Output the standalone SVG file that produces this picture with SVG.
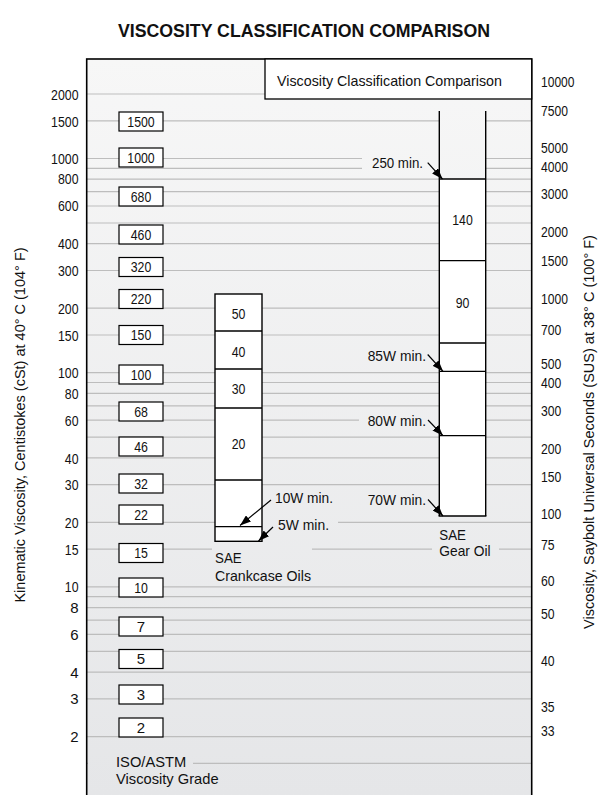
<svg xmlns="http://www.w3.org/2000/svg" width="608" height="795" viewBox="0 0 608 795">
<defs>
<linearGradient id="bg" gradientUnits="userSpaceOnUse" x1="0" y1="59" x2="0" y2="795">
<stop offset="0" stop-color="#f7f7f7"/>
<stop offset="1" stop-color="#e5e6e8"/>
</linearGradient>
<marker id="ah" viewBox="0 0 11 8" refX="11" refY="4" markerWidth="11" markerHeight="8" markerUnits="userSpaceOnUse" orient="auto">
<path d="M0,0 L11,4 L0,8 z" fill="#000"/>
</marker>
<style>
.t{font-family:"Liberation Sans",Arial,sans-serif;font-size:15px;fill:#111}
.ax{font-size:14.5px}
.l{text-anchor:end}
.c{text-anchor:middle}
.g{stroke:#bdbdbd;stroke-width:1.2}
.box{fill:#fff;stroke:#000;stroke-width:1.2}
.col{fill:#fff;stroke:#000;stroke-width:1.4}
.dv{stroke:#000;stroke-width:1.3}
.ko{fill:url(#bg);stroke:none}
.ar{stroke:#000;stroke-width:1.2;fill:none;marker-end:url(#ah)}
</style>
</defs>
<rect width="608" height="795" fill="#fff"/>
<text x="304" y="37" class="t c" style="font-size:19px;font-weight:bold" textLength="372" lengthAdjust="spacingAndGlyphs">VISCOSITY CLASSIFICATION COMPARISON</text>
<rect id="chart-area" x="86.7" y="59" width="445" height="745" fill="url(#bg)" stroke="none"/>
<g id="gridlines">
<line class="g" x1="87" y1="94" x2="531" y2="94"/>
<line class="g" x1="87" y1="120.8" x2="531" y2="120.8"/>
<line class="g" x1="87" y1="158.5" x2="531" y2="158.5"/>
<line class="g" x1="87" y1="168.3" x2="531" y2="168.3"/>
<line class="g" x1="87" y1="179.2" x2="531" y2="179.2"/>
<line class="g" x1="87" y1="191.7" x2="531" y2="191.7"/>
<line class="g" x1="87" y1="206" x2="531" y2="206"/>
<line class="g" x1="87" y1="223" x2="531" y2="223"/>
<line class="g" x1="87" y1="243.7" x2="531" y2="243.7"/>
<line class="g" x1="87" y1="270.5" x2="531" y2="270.5"/>
<line class="g" x1="87" y1="308.2" x2="531" y2="308.2"/>
<line class="g" x1="87" y1="335" x2="531" y2="335"/>
<line class="g" x1="87" y1="372.7" x2="531" y2="372.7"/>
<line class="g" x1="87" y1="382.5" x2="531" y2="382.5"/>
<line class="g" x1="87" y1="393.4" x2="531" y2="393.4"/>
<line class="g" x1="87" y1="405.9" x2="531" y2="405.9"/>
<line class="g" x1="87" y1="420.2" x2="531" y2="420.2"/>
<line class="g" x1="87" y1="437.2" x2="531" y2="437.2"/>
<line class="g" x1="87" y1="457.9" x2="531" y2="457.9"/>
<line class="g" x1="87" y1="484.7" x2="531" y2="484.7"/>
<line class="g" x1="87" y1="522.4" x2="531" y2="522.4"/>
<line class="g" x1="87" y1="549.2" x2="531" y2="549.2"/>
<line class="g" x1="87" y1="586.9" x2="531" y2="586.9"/>
<line class="g" x1="87" y1="596.7" x2="531" y2="596.7"/>
<line class="g" x1="87" y1="607.6" x2="531" y2="607.6"/>
<line class="g" x1="87" y1="620.1" x2="531" y2="620.1"/>
<line class="g" x1="87" y1="634.4" x2="531" y2="634.4"/>
<line class="g" x1="87" y1="651.4" x2="531" y2="651.4"/>
<line class="g" x1="87" y1="672.1" x2="531" y2="672.1"/>
<line class="g" x1="87" y1="698.9" x2="531" y2="698.9"/>
<line class="g" x1="87" y1="736.6" x2="531" y2="736.6"/>
<line class="g" x1="87" y1="763.4" x2="531" y2="763.4"/>
</g>
<g id="knockouts">
<rect class="ko" x="362" y="152" width="77" height="22"/>
<rect class="ko" x="439" y="111" width="47" height="68"/>
<rect class="ko" x="359" y="412" width="80" height="17"/>
<rect class="ko" x="262" y="515" width="76" height="16"/>
<rect class="ko" x="212" y="542" width="100" height="40"/>
<rect class="ko" x="432" y="527" width="67" height="30"/>
<rect class="ko" x="88" y="754" width="105" height="36"/>
</g>
<rect id="frame" x="86.7" y="59" width="445" height="745" fill="none" stroke="#000" stroke-width="1.6"/>
<g id="title-box">
<rect x="265" y="59" width="266.7" height="40" fill="#fff" stroke="#000" stroke-width="1.3"/>
<text x="389.5" y="86" class="t c" textLength="225" lengthAdjust="spacingAndGlyphs">Viscosity Classification Comparison</text>
</g>
<g id="left-axis">
<text x="78.5" y="100" class="t l" textLength="27.4" lengthAdjust="spacingAndGlyphs">2000</text>
<text x="78.5" y="126.5" class="t l" textLength="27.4" lengthAdjust="spacingAndGlyphs">1500</text>
<text x="78.5" y="164" class="t l" textLength="27.4" lengthAdjust="spacingAndGlyphs">1000</text>
<text x="78.5" y="184" class="t l" textLength="20.5" lengthAdjust="spacingAndGlyphs">800</text>
<text x="78.5" y="211" class="t l" textLength="20.5" lengthAdjust="spacingAndGlyphs">600</text>
<text x="78.5" y="249" class="t l" textLength="20.5" lengthAdjust="spacingAndGlyphs">400</text>
<text x="78.5" y="276" class="t l" textLength="20.5" lengthAdjust="spacingAndGlyphs">300</text>
<text x="78.5" y="313.5" class="t l" textLength="20.5" lengthAdjust="spacingAndGlyphs">200</text>
<text x="78.5" y="340.5" class="t l" textLength="20.5" lengthAdjust="spacingAndGlyphs">150</text>
<text x="78.5" y="378" class="t l" textLength="20.5" lengthAdjust="spacingAndGlyphs">100</text>
<text x="78.5" y="399" class="t l" textLength="13.7" lengthAdjust="spacingAndGlyphs">80</text>
<text x="78.5" y="425.5" class="t l" textLength="13.7" lengthAdjust="spacingAndGlyphs">60</text>
<text x="78.5" y="463.5" class="t l" textLength="13.7" lengthAdjust="spacingAndGlyphs">40</text>
<text x="78.5" y="490" class="t l" textLength="13.7" lengthAdjust="spacingAndGlyphs">30</text>
<text x="78.5" y="528" class="t l" textLength="13.7" lengthAdjust="spacingAndGlyphs">20</text>
<text x="78.5" y="554.5" class="t l" textLength="13.7" lengthAdjust="spacingAndGlyphs">15</text>
<text x="78.5" y="592" class="t l" textLength="13.7" lengthAdjust="spacingAndGlyphs">10</text>
<text x="78.5" y="613" class="t l">8</text>
<text x="78.5" y="640" class="t l">6</text>
<text x="78.5" y="677.5" class="t l">4</text>
<text x="78.5" y="704" class="t l">3</text>
<text x="78.5" y="742" class="t l">2</text>
<text transform="translate(25,425) rotate(-90)" x="0" y="0" class="t ax c">Kinematic Viscosity, Centistokes (cSt) at 40° C (104° F)</text>
</g>
<g id="right-axis">
<text x="541" y="86.5" class="t" textLength="33.5" lengthAdjust="spacingAndGlyphs">10000</text>
<text x="541" y="115.5" class="t" textLength="27" lengthAdjust="spacingAndGlyphs">7500</text>
<text x="541" y="152.5" class="t" textLength="27" lengthAdjust="spacingAndGlyphs">5000</text>
<text x="541" y="171.5" class="t" textLength="27" lengthAdjust="spacingAndGlyphs">4000</text>
<text x="541" y="198.5" class="t" textLength="27" lengthAdjust="spacingAndGlyphs">3000</text>
<text x="541" y="237" class="t" textLength="27" lengthAdjust="spacingAndGlyphs">2000</text>
<text x="541" y="265.5" class="t" textLength="27" lengthAdjust="spacingAndGlyphs">1500</text>
<text x="541" y="303.5" class="t" textLength="27" lengthAdjust="spacingAndGlyphs">1000</text>
<text x="541" y="335" class="t" textLength="20.3" lengthAdjust="spacingAndGlyphs">700</text>
<text x="541" y="369" class="t" textLength="20.3" lengthAdjust="spacingAndGlyphs">500</text>
<text x="541" y="387.5" class="t" textLength="20.3" lengthAdjust="spacingAndGlyphs">400</text>
<text x="541" y="416" class="t" textLength="20.3" lengthAdjust="spacingAndGlyphs">300</text>
<text x="541" y="453.5" class="t" textLength="20.3" lengthAdjust="spacingAndGlyphs">200</text>
<text x="541" y="482" class="t" textLength="20.3" lengthAdjust="spacingAndGlyphs">150</text>
<text x="541" y="519" class="t" textLength="20.3" lengthAdjust="spacingAndGlyphs">100</text>
<text x="541" y="549.5" class="t" textLength="13.6" lengthAdjust="spacingAndGlyphs">75</text>
<text x="541" y="585.5" class="t" textLength="13.6" lengthAdjust="spacingAndGlyphs">60</text>
<text x="541" y="618.5" class="t" textLength="13.6" lengthAdjust="spacingAndGlyphs">50</text>
<text x="541" y="665.5" class="t" textLength="13.6" lengthAdjust="spacingAndGlyphs">40</text>
<text x="541" y="711.5" class="t" textLength="13.6" lengthAdjust="spacingAndGlyphs">35</text>
<text x="541" y="735.5" class="t" textLength="13.6" lengthAdjust="spacingAndGlyphs">33</text>
<text transform="translate(594,432) rotate(-90)" x="0" y="0" class="t ax c">Viscosity, Saybolt Universal Seconds (SUS) at 38° C (100° F)</text>
</g>
<g id="iso-grades">
<g id="iso-1500"><rect class="box" x="119" y="112" width="44" height="19"/><text x="141" y="126.8" class="t c" textLength="27.4" lengthAdjust="spacingAndGlyphs">1500</text></g>
<g id="iso-1000"><rect class="box" x="119" y="148" width="44" height="19"/><text x="141" y="162.8" class="t c" textLength="27.4" lengthAdjust="spacingAndGlyphs">1000</text></g>
<g id="iso-680"><rect class="box" x="119" y="187" width="44" height="19"/><text x="141" y="201.8" class="t c" textLength="20.5" lengthAdjust="spacingAndGlyphs">680</text></g>
<g id="iso-460"><rect class="box" x="119" y="225" width="44" height="19"/><text x="141" y="239.8" class="t c" textLength="20.5" lengthAdjust="spacingAndGlyphs">460</text></g>
<g id="iso-320"><rect class="box" x="119" y="257.5" width="44" height="19"/><text x="141" y="272.3" class="t c" textLength="20.5" lengthAdjust="spacingAndGlyphs">320</text></g>
<g id="iso-220"><rect class="box" x="119" y="289.5" width="44" height="19"/><text x="141" y="304.3" class="t c" textLength="20.5" lengthAdjust="spacingAndGlyphs">220</text></g>
<g id="iso-150"><rect class="box" x="119" y="325.5" width="44" height="19"/><text x="141" y="340.3" class="t c" textLength="20.5" lengthAdjust="spacingAndGlyphs">150</text></g>
<g id="iso-100"><rect class="box" x="119" y="365" width="44" height="19"/><text x="141" y="379.8" class="t c" textLength="20.5" lengthAdjust="spacingAndGlyphs">100</text></g>
<g id="iso-68"><rect class="box" x="119" y="402" width="44" height="19"/><text x="141" y="416.8" class="t c" textLength="13.7" lengthAdjust="spacingAndGlyphs">68</text></g>
<g id="iso-46"><rect class="box" x="119" y="437" width="44" height="19"/><text x="141" y="451.8" class="t c" textLength="13.7" lengthAdjust="spacingAndGlyphs">46</text></g>
<g id="iso-32"><rect class="box" x="119" y="474" width="44" height="19"/><text x="141" y="488.8" class="t c" textLength="13.7" lengthAdjust="spacingAndGlyphs">32</text></g>
<g id="iso-22"><rect class="box" x="119" y="505" width="44" height="19"/><text x="141" y="519.8" class="t c" textLength="13.7" lengthAdjust="spacingAndGlyphs">22</text></g>
<g id="iso-15"><rect class="box" x="119" y="543.5" width="44" height="19"/><text x="141" y="558.3" class="t c" textLength="13.7" lengthAdjust="spacingAndGlyphs">15</text></g>
<g id="iso-10"><rect class="box" x="119" y="578" width="44" height="19"/><text x="141" y="592.8" class="t c" textLength="13.7" lengthAdjust="spacingAndGlyphs">10</text></g>
<g id="iso-7"><rect class="box" x="119" y="617" width="44" height="19"/><text x="141" y="631.8" class="t c">7</text></g>
<g id="iso-5"><rect class="box" x="119" y="649.5" width="44" height="19"/><text x="141" y="664.3" class="t c">5</text></g>
<g id="iso-3"><rect class="box" x="119" y="685" width="44" height="19"/><text x="141" y="699.8" class="t c">3</text></g>
<g id="iso-2"><rect class="box" x="119" y="718" width="44" height="19"/><text x="141" y="732.8" class="t c">2</text></g>
<g id="iso-label"><text x="116" y="767.3" class="t" textLength="70.3" lengthAdjust="spacingAndGlyphs">ISO/ASTM</text><text x="116" y="783.5" class="t" textLength="102.6" lengthAdjust="spacingAndGlyphs">Viscosity Grade</text></g>
</g>
<g id="sae-crankcase">
<rect class="col" x="215" y="294" width="47" height="247.3"/>
<line class="dv" x1="215" y1="331" x2="262" y2="331"/>
<line class="dv" x1="215" y1="369" x2="262" y2="369"/>
<line class="dv" x1="215" y1="408" x2="262" y2="408"/>
<line class="dv" x1="215" y1="480" x2="262" y2="480"/>
<line class="dv" x1="215" y1="526.7" x2="262" y2="526.7"/>
<text x="238.5" y="319" class="t c" textLength="13.7" lengthAdjust="spacingAndGlyphs">50</text>
<text x="238.5" y="356.7" class="t c" textLength="13.7" lengthAdjust="spacingAndGlyphs">40</text>
<text x="238.5" y="394" class="t c" textLength="13.7" lengthAdjust="spacingAndGlyphs">30</text>
<text x="238.5" y="449" class="t c" textLength="13.7" lengthAdjust="spacingAndGlyphs">20</text>
<text x="275" y="502.7" class="t" textLength="58" lengthAdjust="spacingAndGlyphs">10W min.</text>
<text x="278" y="530" class="t" textLength="51" lengthAdjust="spacingAndGlyphs">5W min.</text>
<text x="215" y="563" class="t" textLength="26.7" lengthAdjust="spacingAndGlyphs">SAE</text>
<text x="215" y="580.5" class="t" textLength="96" lengthAdjust="spacingAndGlyphs">Crankcase Oils</text>
</g>
<g id="sae-gear">
<rect x="439.3" y="179" width="46.4" height="337" fill="#fff"/>
<line x1="439.3" y1="111" x2="439.3" y2="516" stroke="#000" stroke-width="1.4"/>
<line x1="485.7" y1="111" x2="485.7" y2="516" stroke="#000" stroke-width="1.4"/>
<line class="dv" x1="439.3" y1="179" x2="485.7" y2="179"/>
<line class="dv" x1="439.3" y1="260.7" x2="485.7" y2="260.7"/>
<line class="dv" x1="439.3" y1="343" x2="485.7" y2="343"/>
<line class="dv" x1="439.3" y1="371.3" x2="485.7" y2="371.3"/>
<line class="dv" x1="439.3" y1="435.7" x2="485.7" y2="435.7"/>
<line x1="438.6" y1="516" x2="486.4" y2="516" stroke="#000" stroke-width="1.4"/>
<text x="462.5" y="225" class="t c" textLength="20.5" lengthAdjust="spacingAndGlyphs">140</text>
<text x="462.5" y="308.3" class="t c" textLength="13.7" lengthAdjust="spacingAndGlyphs">90</text>
<text x="423" y="168.3" class="t l" textLength="51" lengthAdjust="spacingAndGlyphs">250 min.</text>
<text x="426" y="360.7" class="t l" textLength="58.3" lengthAdjust="spacingAndGlyphs">85W min.</text>
<text x="426" y="425.7" class="t l" textLength="58.3" lengthAdjust="spacingAndGlyphs">80W min.</text>
<text x="426" y="505" class="t l" textLength="58.3" lengthAdjust="spacingAndGlyphs">70W min.</text>
<text x="439.3" y="539.5" class="t" textLength="26.7" lengthAdjust="spacingAndGlyphs">SAE</text>
<text x="439.3" y="556" class="t" textLength="51.3" lengthAdjust="spacingAndGlyphs">Gear Oil</text>
</g>
<g id="connectors">
<line class="ar" x1="271" y1="500" x2="240" y2="525.5"/>
<line class="ar" x1="273" y1="527" x2="258.5" y2="541"/>
<line class="ar" x1="427.7" y1="162.7" x2="442.5" y2="179"/>
<line class="ar" x1="427.7" y1="354.5" x2="443" y2="371.3"/>
<line class="ar" x1="428" y1="420" x2="443" y2="435.7"/>
<line class="ar" x1="428" y1="499.5" x2="443" y2="516"/>
</g>
</svg>
